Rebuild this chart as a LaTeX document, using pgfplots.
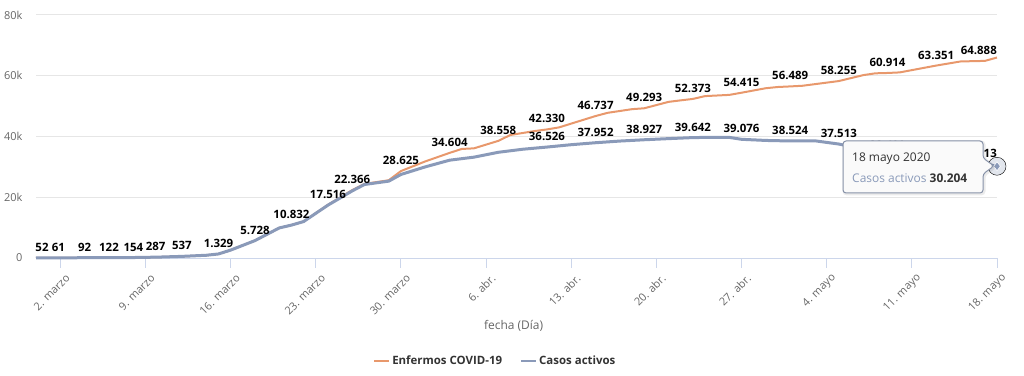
\documentclass[border=0pt]{standalone}
\usepackage{fontspec}
\setmainfont{Open Sans}
\usepackage{pgfplots}
\usepackage{pgfplotstable}
\pgfplotsset{compat=1.18}
\definecolor{orangeL}{HTML}{E8986C}
\definecolor{blueL}{HTML}{8A9AB9}
\definecolor{axisc}{HTML}{CCD6EB}
\definecolor{gridc}{HTML}{E6E6E6}
\definecolor{lab}{HTML}{666666}
\definecolor{dark}{HTML}{333333}

\pgfplotstableread{
day val
-2 52
-1 55
0 61
2 92
4 122
6 154
8 287
10 537
12 900
13 1329
14 2600
16 5728
18 9900
19 10832
20 12000
22 17516
24 22366
25 24400
27 25600
28 28625
30 31800
32 34604
33 35900
34 36100
36 38558
37 40500
39 41800
40 42330
41 43000
44 46737
45 47800
47 49000
48 49293
50 51400
51 51900
52 52373
53 53300
55 53700
56 54415
58 55900
59 56300
60 56489
61 56700
64 58255
66 60200
67 60800
68 60914
69 61100
72 63351
74 64700
75 64800
76 64888
77 66000
}\enfermos

\pgfplotstableread{
day val
-2 52
-1 55
0 61
2 92
4 122
6 154
8 287
10 537
12 900
13 1329
14 2600
16 5728
18 9900
19 10832
20 12000
22 17400
24 22100
25 24200
27 25300
28 27500
30 30000
32 32200
34 33200
36 34800
38 35800
40 36526
42 37300
44 37952
46 38500
48 38927
50 39300
52 39642
54 39750
55 39700
56 39076
58 38700
60 38524
62 38600
64 37513
65 36700
66 35400
68 33499
70 33000
72 32400
74 31700
76 30913
77 30204
}\activos

\pgfplotstableread{
day val lab dx
-2 52 52 6
0 61 61 -2
2 92 92 0
4 122 122 0
6 154 154 0
8 287 287 -2
10 537 537 0
13 1329 1.329 0
16 5728 5.728 0
19 10832 10.832 0
22 17516 17.516 0
24 22366 22.366 0
28 28625 28.625 0
32 34604 34.604 0
36 38558 38.558 0
40 42330 42.330 0
44 46737 46.737 0
48 49293 49.293 0
52 52373 52.373 0
56 54415 54.415 0
60 56489 56.489 0
64 58255 58.255 0
68 60914 60.914 0
72 63351 63.351 0
76 64888 64.888 -6
}\enflab

\pgfplotstableread{
day val lab dx
40 36526 36.526 0
44 37952 37.952 0
48 38927 38.927 0
52 39642 39.642 0
56 39076 39.076 0
60 38524 38.524 0
64 37513 37.513 0
68 33499 33.499 0
76 30913 30.913 -6
}\actlab

\begin{document}
\begin{tikzpicture}
\path[use as bounding box] (0,0) rectangle (1024bp,376bp);
\begin{axis}[
  at={(36bp,118bp)}, anchor=south west,
  scale only axis, width=961bp, height=243bp,
  xmin=-2, xmax=77, ymin=0, ymax=80000,
  clip=false,
  axis x line*=bottom, axis y line*=left,
  x axis line style={draw=axisc, line width=1bp, -},
  y axis line style={draw=none},
  xtick={0,7,14,21,28,35,42,49,56,63,70,77},
  xticklabels={2. marzo,9. marzo,16. marzo,23. marzo,30. marzo,6. abr.,13. abr.,20. abr.,27. abr.,4. mayo,11. mayo,18. mayo},
  xtick style={draw=axisc, line width=1bp},
  tick align=outside, major tick length=10bp,
  xticklabel style={rotate=45, anchor=east, text=lab, font=\fontsize{11}{13}\selectfont, xshift=3bp, yshift=-11bp},
  ytick={0,20000,40000,60000,80000},
  yticklabels={0,20k,40k,60k,80k},
  scaled y ticks=false,
  ytick style={draw=none},
  yticklabel style={anchor=east, text=lab, font=\fontsize{11}{13}\selectfont, xshift=0bp},
  ymajorgrids, grid style={draw=gridc, line width=1bp},
  xlabel={fecha (Día)},
  xlabel style={at={(axis description cs:0.497,-0.28)}, anchor=center, text=lab, font=\fontsize{12}{14}\selectfont},
  legend style={at={(axis description cs:0.478,-0.424)}, anchor=center, draw=none, fill=none,
    font=\bfseries\fontsize{11.5}{14}\selectfont, text=dark,
    /tikz/every even column/.append style={column sep=16bp}},
  legend columns=2,
  legend image code/.code={\draw[#1, line width=2bp] (0bp,0bp) -- (15bp,0bp);},
  nodes near coords style={anchor=base, inner sep=0pt, yshift=6.5bp, text=black, font=\bfseries\fontsize{11.5}{13}\selectfont},
]
\addplot[orangeL, line width=2bp] table[x=day, y=val] {\enfermos};
\addlegendentry{Enfermos COVID-19}
\addplot[blueL, line width=3bp] table[x=day, y=val] {\activos};
\addlegendentry{Casos activos}
\addplot[draw=none, forget plot, nodes near coords, point meta=explicit symbolic,
  visualization depends on={\thisrow{dx} \as \dx},
  nodes near coords style={xshift=\dx*1bp}] table[x=day, y=val, meta=lab] {\enflab};
\addplot[draw=none, forget plot, nodes near coords, point meta=explicit symbolic,
  visualization depends on={\thisrow{dx} \as \dx},
  nodes near coords style={xshift=\dx*1bp}] table[x=day, y=val, meta=lab] {\actlab};
\addplot[forget plot, only marks, mark=*, mark size=9bp, mark options={draw=none, fill=blueL, fill opacity=0.25}] coordinates {(77,30204)};
\addplot[forget plot, only marks, mark=diamond*, mark size=4.5bp, mark options={draw=white, fill=blueL, line width=0.6bp}] coordinates {(77,30204)};
\end{axis}
% tooltip
\draw[black, opacity=0.08, line width=3bp, rounded corners=3bp, shift={(1bp,-1bp)}]
  (843bp,235bp) -- (983bp,235bp) -- (983bp,218bp) -- (994bp,210bp) -- (983bp,202bp) -- (983bp,183bp) -- (843bp,183bp) -- cycle;
\draw[blueL!70!gray, line width=1bp, fill=white!98!black, rounded corners=3bp]
  (843bp,235bp) -- (983bp,235bp) -- (983bp,218bp) -- (994bp,210bp) -- (983bp,202bp) -- (983bp,183bp) -- (843bp,183bp) -- cycle;
\node[anchor=west, inner sep=0pt, text=dark, font=\fontsize{12}{14}\selectfont] at (852bp,217bp) {18 mayo 2020};
\node[anchor=west, inner sep=0pt, font=\fontsize{12}{14}\selectfont] at (852bp,198bp) {\textcolor{blueL}{Casos activos} \textcolor{dark}{\bfseries 30.204}};
\end{tikzpicture}
\end{document}
